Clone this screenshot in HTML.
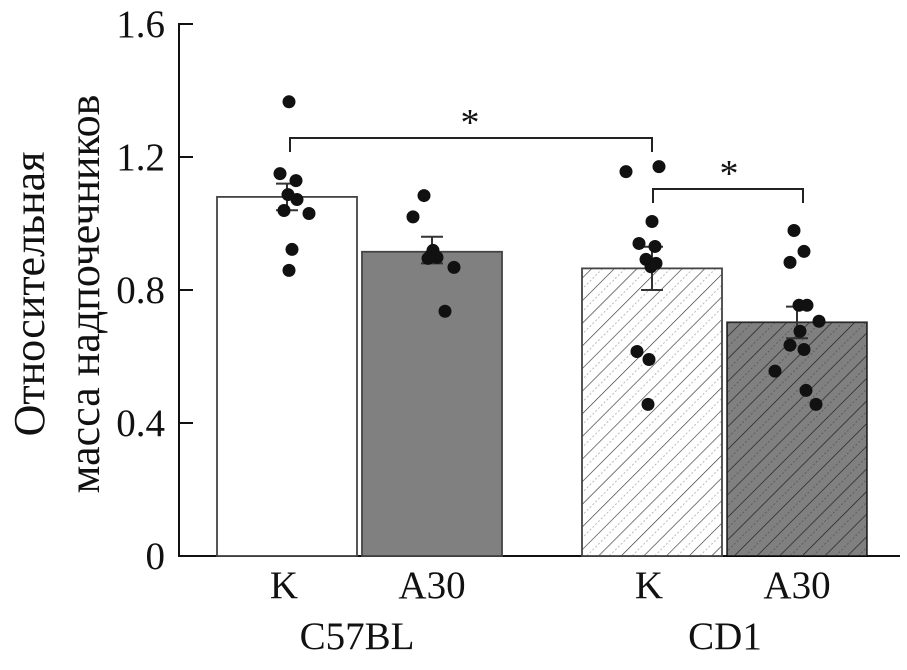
<!DOCTYPE html>
<html><head><meta charset="utf-8"><style>
body{margin:0;background:#fff;}
svg text{font-family:"Liberation Serif","DejaVu Serif",serif;fill:#111;}
</style></head><body>
<svg id="chart" width="907" height="665" viewBox="0 0 907 665" xmlns="http://www.w3.org/2000/svg">
<defs>
<pattern id="hatch" patternUnits="userSpaceOnUse" width="16" height="16" patternTransform="rotate(45)">
<line x1="0" y1="0" x2="0" y2="16" stroke="#333" stroke-width="1.3"/>
<line x1="8" y1="0" x2="8" y2="16" stroke="#bbb" stroke-width="1" stroke-dasharray="2 2"/>
</pattern>
</defs>
<g id="plot"></g>
</svg>
<script>
const categories = ["K", "A30", "K", "A30"];
const groups = ["C57BL", "CD1"];
const means = [1.08, 0.915, 0.865, 0.703];
const errUp = [1.12, 0.96, 0.93, 0.75];
const errLow = [1.04, 0.88, 0.80, 0.655];
const points0 = [1.366, 1.15, 1.129, 1.087, 1.072, 1.039, 1.03, 0.922, 0.859];
const points1 = [1.084, 1.02, 0.919, 0.905, 0.898, 0.895, 0.868, 0.736];
const points2 = [1.156, 1.171, 1.006, 0.94, 0.931, 0.892, 0.88, 0.87, 0.615, 0.591, 0.456];
const points3 = [0.979, 0.916, 0.883, 0.754, 0.754, 0.706, 0.676, 0.634, 0.621, 0.556, 0.498, 0.456];
const yTicks = [0, 0.4, 0.8, 1.2, 1.6];
const yTickLabels = ["0", "0.4", "0.8", "1.2", "1.6"];

const NS = "http://www.w3.org/2000/svg";
const g = document.getElementById("plot");
const y = v => 556 - v * 332.5;
const barLeft = [217, 362, 582, 727];
const barW = 140;
const cx = i => barLeft[i] + barW / 2;
const jitter = [[212,203,219,211,220,207,232,215,212],[62,51,71,69,75,66,92,83],[44,77,70,57,73,64,74,69,55,67,66],[67,77,63,72,80,92,73,63,77,48,79,89]];
const fills = ["#fff", "#808080", "url(#hatch)", "#808080"];
function el(tag, attrs, parent){const e=document.createElementNS(NS,tag);for(const k in attrs)e.setAttribute(k,attrs[k]);(parent||g).appendChild(e);return e;}

const ya = el("line",{x1:179,y1:23,x2:179,y2:557,stroke:"#111","stroke-width":2});


const xa = el("line",{x1:178,y1:556,x2:900,y2:556,stroke:"#111","stroke-width":2});


yTicks.forEach((t,i)=>{
  const tk = el("line",{x1:179,y1:y(t),x2:193,y2:y(t),stroke:"#111","stroke-width":2});
  
  
  const tl = el("text",{x:165,y:y(t)+13,"text-anchor":"end","font-size":39});
  tl.textContent = yTickLabels[i];
  
  
});

const allPoints=[points0,points1,points2,points3];
means.forEach((m,i)=>{
  if(i>=2){
    const bg = el("rect",{x:barLeft[i],y:y(m),width:barW,height:556-y(m),fill:i==2?"#fff":"#808080"});
    
    
  }
  const r = el("rect",{x:barLeft[i],y:y(m),width:barW,height:556-y(m),fill:fills[i],stroke:"#444","stroke-width":1.8});
  if(i==3){ r.setAttribute("fill","url(#hatch)"); r.style.mixBlendMode="multiply"; }
  
  
  const e1 = el("line",{x1:cx(i),y1:y(errUp[i]),x2:cx(i),y2:y(errLow[i]),stroke:"#333","stroke-width":2});
  
  
  [errUp[i],errLow[i]].forEach(v=>{
    const c = el("line",{x1:cx(i)-11,y1:y(v),x2:cx(i)+11,y2:y(v),stroke:"#333","stroke-width":2});
    
    
  });
  allPoints[i].forEach((p,j)=>{
    const d = el("circle",{cx:barLeft[i]+(jitter[i][j]||70)-(i==0?140:0),cy:y(p),r:6.5,fill:"#111"});
    
    
  });
  const xl = el("text",{x:cx(i)-(i%2==0?3:0),y:598,"text-anchor":"middle","font-size":39});
  xl.textContent = categories[i];
  
  
});
groups.forEach((gn,k)=>{
  const t = el("text",{x:k==0?357:725,y:649,"text-anchor":"middle","font-size":39});
  t.textContent = gn;
  
  
});

const b1 = el("path",{d:"M290 152 V138 H652 V152",fill:"none",stroke:"#222","stroke-width":2});


const s1 = el("text",{x:470,y:135,"text-anchor":"middle","font-size":38});
s1.textContent="*";


const b2 = el("path",{d:"M653 203 V189 H803 V203",fill:"none",stroke:"#222","stroke-width":2});


const s2 = el("text",{x:729,y:186,"text-anchor":"middle","font-size":38});
s2.textContent="*";



const yt = el("text",{transform:"translate(44,294) rotate(-90)","text-anchor":"middle","font-size":44});


const t1 = el("tspan",{x:0,dy:0},yt); t1.textContent="Относительная";
const t2 = el("tspan",{x:0,dy:55},yt); t2.textContent="масса надпочечников";
</script>
</body></html>
